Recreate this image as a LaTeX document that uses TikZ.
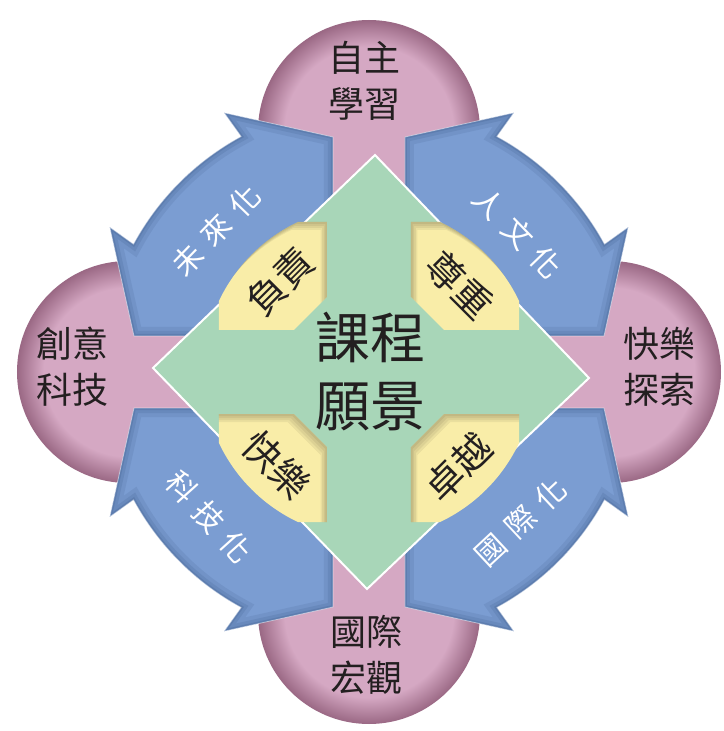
\documentclass[tikz,border=0pt]{standalone}
\usepackage{fontspec}
\newfontfamily\cjk{Noto Sans CJK TC}
\definecolor{pinkc}{HTML}{D5A8C3}
\definecolor{pinkd}{HTML}{9A6884}
\definecolor{bluec}{HTML}{7B9DD2}
\definecolor{blued}{HTML}{34507E}
\definecolor{greenc}{HTML}{A8D6B8}
\definecolor{yellowc}{HTML}{F9EDA8}
\definecolor{textc}{HTML}{231F20}
\pgfdeclareradialshading{pinkball}{\pgfpoint{0bp}{0bp}}{color(0bp)=(pinkc); color(19bp)=(pinkc); color(25bp)=(pinkd); color(50bp)=(pinkd)}
\newcommand\arrowpath{(-36,145.6) -- (-36,235) -- (119.2:297) -- (118.5:268) arc[start angle=118.5, end angle=151.5, radius=268] -- (150.8:297) -- (-235,36) -- (-145.6,36) arc[start angle=166.11, end angle=103.89, radius=150] -- cycle}
\newcommand\yelshape{(-71.1,150) -- (-42,150) -- (-42,75) -- (-75,42) -- (-150,42) -- (-150,71.1) arc[start angle=154.64, end angle=115.36, radius=166] -- cycle}
\newcommand\diamondpath{(6,217) -- (-216,4) -- (-2,-217) -- (220,-6) -- cycle}
\tikzset{
  pinktext/.style={font=\cjk\fontsize{36}{46}\selectfont, text=textc, align=center, inner sep=0pt},
  centertext/.style={font=\cjk\fontsize{55}{68}\selectfont, text=textc, align=center, inner sep=0pt},
  yellowtext/.style={font=\cjk\fontsize{38}{38}\selectfont, text=textc, inner sep=0pt},
  bluetext/.style={font=\cjk\fontsize{30}{30}\selectfont, text=white, inner sep=0pt},
}
\begin{document}
\begin{tikzpicture}[x=1pt,y=1pt]
\useasboundingbox (-369,-359) rectangle (354,372);
% pink circles
\foreach \a in {0,90,180,270}{
  \begin{scope}[rotate=\a]
    \shade[shading=pinkball] (0,241) circle[radius=111];
  \end{scope}}
\foreach \a in {0,90,180,270}{
  \begin{scope}[rotate=\a]
    \fill[pinkc] (-36,0) rectangle (36,200);
  \end{scope}}
% blue arrows
\foreach \a in {0,-90,90,180}{
  \begin{scope}[rotate=\a]
    \fill[bluec] \arrowpath;
    \begin{scope}
      \clip \arrowpath;
      \draw[blued, line width=18pt, opacity=0.12] \arrowpath;
      \draw[blued, line width=10pt, opacity=0.15] \arrowpath;
      \draw[blued, line width=4pt, opacity=0.2] \arrowpath;
    \end{scope}
    \draw[white, opacity=0.5, line width=0.8pt] \arrowpath;
  \end{scope}}
% green diamond
\fill[greenc] \diamondpath;
\draw[white, line width=2pt] \diamondpath;
% yellow boxes
\foreach \sx/\sy in {1/1, -1/1, 1/-1, -1/-1}{
  \begin{scope}[xscale=\sx, yscale=\sy]
    \fill[yellowc] \yelshape;
    \begin{scope}
      \clip \yelshape;
      \foreach \k in {1,...,4}{
        \begin{scope}[shift={(-1.6*\k, -2*\k*\sy)}]
          \fill[black, opacity=0.06, even odd rule] (-400,-400) rectangle (400,400) \yelshape;
        \end{scope}}
    \end{scope}
  \end{scope}}
% texts
\node[pinktext] (t1) at (-4,291) {自主\\學習};
\node[pinktext] (t2) at (-296,5) {創意\\科技};
\node[pinktext] (t3) at (290,5) {快樂\\探索};
\node[pinktext] (t4) at (-2,-283) {國際\\宏觀};
\node[centertext] (c) at (2,0) {課程\\願景};
\node[yellowtext, rotate=45] (y1) at (-89,91) {負責};
\node[yellowtext, rotate=-45] (y2) at (91,87) {尊重};
\node[yellowtext, rotate=-45] (y3) at (-92,-93) {快樂};
\node[yellowtext, rotate=45] (y4) at (89,-95) {卓越};
\node[bluetext, rotate=46] (b1) at (-153,142) {未\hspace{11pt}來\hspace{11pt}化};
\node[bluetext, rotate=-46] (b2) at (149,139) {人\hspace{11pt}文\hspace{11pt}化};
\node[bluetext, rotate=-48] (b3) at (-160,-145) {科\hspace{11pt}技\hspace{11pt}化};
\node[bluetext, rotate=43] (b4) at (152,-150) {國\hspace{11pt}際\hspace{11pt}化};
\end{tikzpicture}
\end{document}
